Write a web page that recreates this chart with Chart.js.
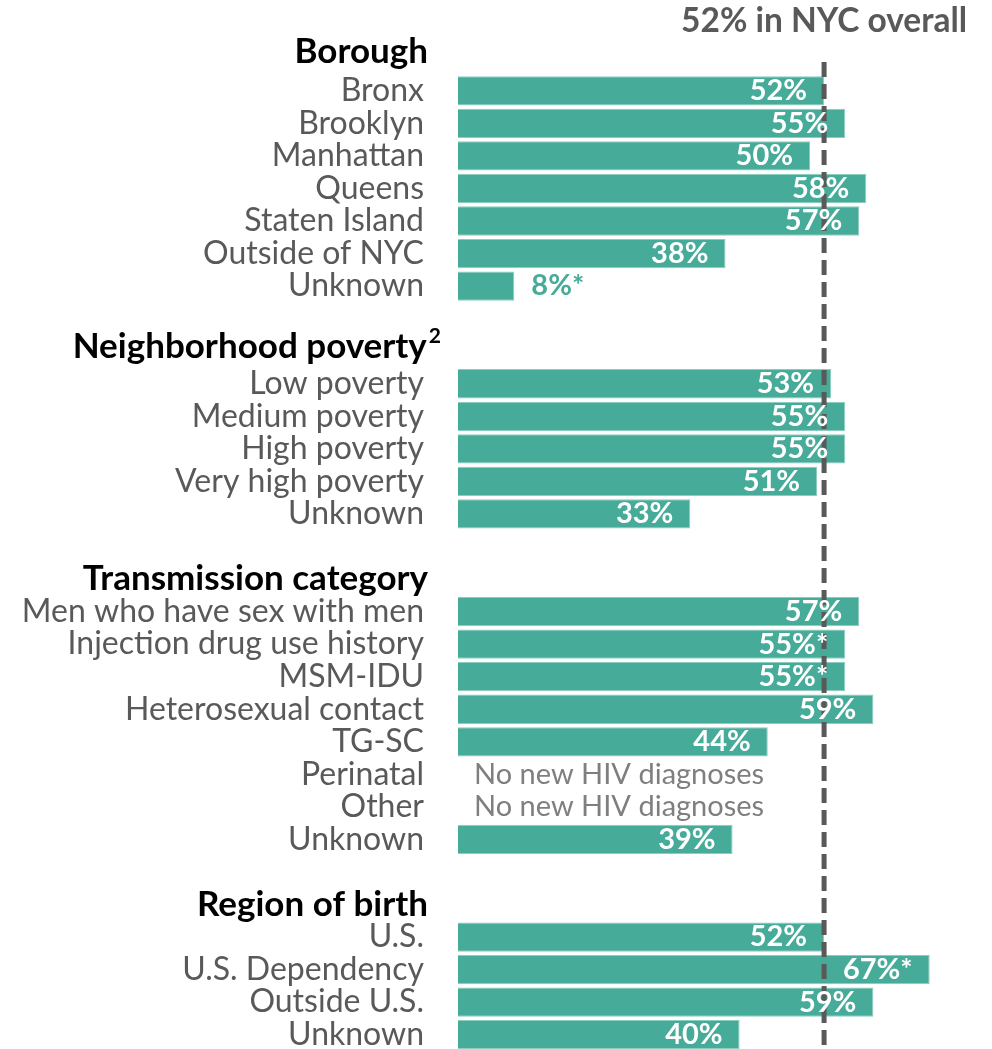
<!DOCTYPE html>
<html>
<head>
<meta charset="utf-8">
<script src="https://cdn.jsdelivr.net/npm/chart.js@4.4.1/dist/chart.umd.min.js"></script>
<style>
  html, body { margin: 0; padding: 0; background: #fff; overflow: hidden; }
  #chart { display: block; }
</style>
</head>
<body>
<canvas id="chart" width="992" height="1051"></canvas>
<script>
// citywide share, drawn as the dashed reference line
const nycOverall = 52;

const boroughs = ["Bronx", "Brooklyn", "Manhattan", "Queens", "Staten Island", "Outside of NYC", "Unknown"];
const boroughPct = [52, 55, 50, 58, 57, 38, 8];
const boroughStar = [0, 0, 0, 0, 0, 0, 1];

const povertyLevels = ["Low poverty", "Medium poverty", "High poverty", "Very high poverty", "Unknown"];
const povertyPct = [53, 55, 55, 51, 33];
const povertyStar = [0, 0, 0, 0, 0];

const transmission = ["Men who have sex with men", "Injection drug use history", "MSM-IDU", "Heterosexual contact", "TG-SC", "Perinatal", "Other", "Unknown"];
const transmissionPct = [57, 55, 55, 59, 44, null, null, 39];
const transmissionStar = [0, 1, 1, 0, 0, 0, 0, 0];

const birthRegions = ["U.S.", "U.S. Dependency", "Outside U.S.", "Unknown"];
const birthPct = [52, 67, 59, 40];
const birthStar = [0, 1, 0, 0];

const sections = [
  { title: "Borough", note: "", labels: boroughs, values: boroughPct, stars: boroughStar },
  { title: "Neighborhood poverty", note: "2", labels: povertyLevels, values: povertyPct, stars: povertyStar },
  { title: "Transmission category", note: "", labels: transmission, values: transmissionPct, stars: transmissionStar },
  { title: "Region of birth", note: "", labels: birthRegions, values: birthPct, stars: birthStar }
];

const emptyText = "No new HIV diagnoses";

// small vertical nudge for each section heading (px)
const headerNudge = [-7, -4, 0, 0];

const teal = "#46ab98";
const grey = "#595959";
const fontFamily = "Lato, 'Open Sans', sans-serif";

// flatten sections into one row list: header, items, spacer
const rows = [];
sections.forEach((sec, s) => {
  if (s > 0) rows.push({ kind: "blank", label: "", value: null });
  rows.push({ kind: "header", label: sec.title, note: sec.note, section: s, value: null });
  sec.labels.forEach((label, i) => {
    rows.push({ kind: "item", label, value: sec.values[i], star: !!sec.stars[i] });
  });
});

const rowLabels = rows.map((r) => r.label);
const rowValues = rows.map((r) => r.value);

const overlayPlugin = {
  id: "overlay",
  afterDatasetsDraw(chart) {
    const { ctx, scales } = chart;
    const x = scales.x;
    const y = scales.y;
    const meta = chart.getDatasetMeta(0);

    // dashed citywide line
    const lineX = x.getPixelForValue(nycOverall);
    ctx.save();
    ctx.strokeStyle = grey;
    ctx.lineWidth = 5;
    ctx.setLineDash([15, 7]);
    ctx.beginPath();
    ctx.moveTo(lineX, 62);
    ctx.lineTo(lineX, chart.height);
    ctx.stroke();
    ctx.setLineDash([]);

    ctx.fillStyle = grey;
    ctx.font = "bold 33.5px " + fontFamily;
    ctx.textAlign = "center";
    ctx.textBaseline = "middle";
    ctx.fillText(nycOverall + "% in NYC overall", lineX, 21);

    rows.forEach((row, i) => {
      const cy = y.getPixelForValue(i);
      if (row.kind === "header") {
        const hy = cy + headerNudge[row.section];
        ctx.fillStyle = "#000";
        ctx.textBaseline = "middle";
        let right = 428;
        if (row.note) {
          ctx.font = "bold 21px " + fontFamily;
          ctx.textAlign = "right";
          ctx.fillText(row.note, 441, hy - 11);
          right = 441 - ctx.measureText(row.note).width - 2;
        }
        ctx.font = "bold 35px " + fontFamily;
        ctx.textAlign = "right";
        ctx.fillText(row.label, right, hy);
        return;
      }
      if (row.kind !== "item") return;
      if (row.value === null) {
        ctx.fillStyle = "#7f7f7f";
        ctx.font = "29px " + fontFamily;
        ctx.textAlign = "left";
        ctx.textBaseline = "middle";
        ctx.fillText(emptyText, x.getPixelForValue(0) + 16, cy);
        return;
      }
      const bar = meta.data[i];
      const text = row.value + "%" + (row.star ? "*" : "");
      ctx.font = "bold 29px " + fontFamily;
      ctx.textBaseline = "middle";
      if (row.value < 15) {
        ctx.fillStyle = teal;
        ctx.textAlign = "left";
        ctx.fillText(text, bar.x + 17, bar.y);
      } else {
        ctx.fillStyle = "#fff";
        ctx.textAlign = "right";
        ctx.fillText(text, bar.x - 17, bar.y);
      }
    });
    ctx.restore();
  }
};

new Chart(document.getElementById("chart"), {
  type: "bar",
  data: {
    labels: rowLabels,
    datasets: [{
      data: rowValues,
      backgroundColor: teal,
      borderColor: "#8ccdbf",
      borderWidth: 1,
      barPercentage: 0.9,
      categoryPercentage: 1
    }]
  },
  options: {
    indexAxis: "y",
    responsive: false,
    animation: false,
    layout: { padding: { top: 42, bottom: 0, left: 0, right: 6 } },
    plugins: {
      legend: { display: false },
      tooltip: { enabled: false }
    },
    scales: {
      x: { display: false, min: 0, max: 75 },
      y: {
        grid: { display: false },
        border: { display: false },
        afterFit: (scale) => {
          scale.width = 458;
          scale.paddingTop = 0;
          scale.paddingBottom = 0;
        },
        ticks: {
          autoSkip: false,
          padding: 26,
          color: grey,
          font: { family: fontFamily, size: 32 },
          callback: (value, index) => rows[index].kind === "item" ? rowLabels[index] : ""
        }
      }
    }
  },
  plugins: [overlayPlugin]
});
</script>
</body>
</html>
